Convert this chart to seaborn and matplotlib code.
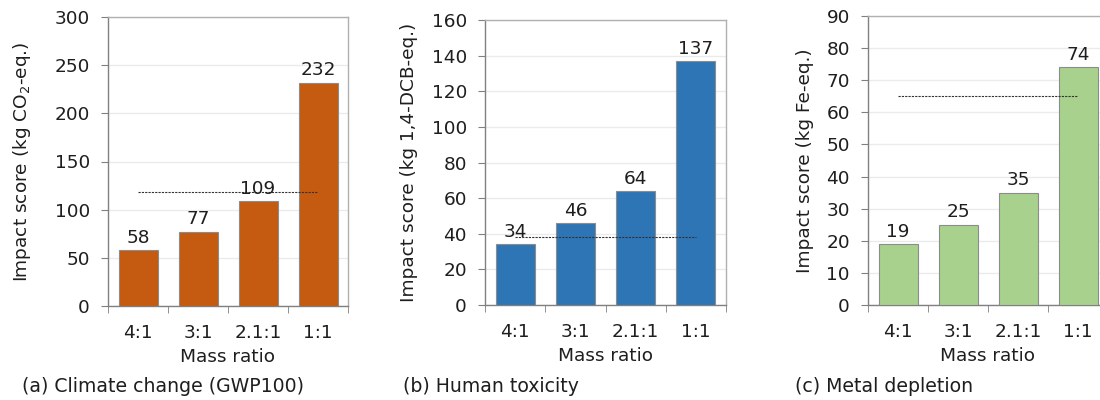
import pandas as pd
import seaborn as sns
import matplotlib.pyplot as plt

# data
ratios = ["4:1", "3:1", "2.1:1", "1:1"]
climate = [58, 77, 109, 232]
toxicity = [34, 46, 64, 137]
metal = [19, 25, 35, 74]
reference = [118, 38.3, 65]

ylabels = ["Impact score (kg CO$_2$-eq.)", "Impact score (kg 1,4-DCB-eq.)", "Impact score (kg Fe-eq.)"]
captions = ["(a) Climate change (GWP100)", "(b) Human toxicity", "(c) Metal depletion"]
colors = ["#C55A11", "#2E75B6", "#A9D18E"]
ylims = [(0, 300, 50), (0, 160, 20), (0, 90, 10)]

sns.set_style("white")
plt.rcParams['font.family'] = ['DejaVu Sans']

fig = plt.figure(figsize=(11, 4), dpi=100)
rects = [
    [108 / 1100, 1 - 306 / 400, 240 / 1100, 289 / 400],
    [485 / 1100, 1 - 305 / 400, 241 / 1100, 285 / 400],
    [868 / 1100, 1 - 305 / 400, 240 / 1100, 289 / 400],
]
ylabel_x = [-0.358, -0.315, -0.2625]
caption_x = [22 / 1100, 403 / 1100, 795 / 1100]
txt = "#1e1e1e"
fs = 13.3

for i, values in enumerate([climate, toxicity, metal]):
    ax = fig.add_axes(rects[i])
    df = pd.DataFrame({"Mass ratio": ratios, "Impact": values})
    sns.barplot(data=df, x="Mass ratio", y="Impact", color=colors[i], width=0.65,
                edgecolor="#8c8c8c", linewidth=0.8, saturation=1, ax=ax, zorder=3)
    lo, hi, step = ylims[i]
    ax.set_ylim(lo, hi)
    ax.set_yticks(range(lo, hi + 1, step))
    ax.set_xlim(-0.5, len(ratios) - 0.5)
    ax.grid(axis="y", color="#ebebeb", linewidth=1, zorder=0)
    for s in ax.spines.values():
        s.set_visible(True)
        s.set_color("#808080")
        s.set_linewidth(1)
    ax.spines["top"].set_color("#b0b0b0")
    ax.spines["right"].set_color("#b0b0b0")

    for x, v in enumerate(values):
        ax.text(x, v + hi * 0.012, f"{v}", ha="center", va="bottom", fontsize=fs, color=txt, zorder=5)

    ax.hlines(reference[i], 0, len(ratios) - 1, colors="#333333", linestyles=(0, (2, 1)),
              linewidth=0.8, zorder=4)

    ax.set_xticks(range(len(ratios)))
    ax.set_xticklabels(ratios)
    ax.set_xticks([k - 0.5 for k in range(len(ratios) + 1)], minor=True)
    ax.tick_params(axis="x", which="major", length=0, pad=13, labelsize=fs, colors=txt)
    ax.tick_params(axis="x", which="minor", length=5, color="#808080", direction="out", bottom=True)
    ax.tick_params(axis="y", length=5, color="#808080", direction="out", left=True, pad=8,
                   labelsize=fs, labelcolor=txt)
    ax.set_xlabel("Mass ratio", fontsize=fs, color=txt, labelpad=4)
    ax.set_ylabel(ylabels[i], fontsize=fs, color=txt, va="center")
    ax.yaxis.set_label_coords(ylabel_x[i], 0.5)

    fig.text(caption_x[i], 1 - 387 / 400, captions[i], fontsize=13.6, color=txt,
             ha="left", va="center")

fig.savefig("out.png", dpi=100)
